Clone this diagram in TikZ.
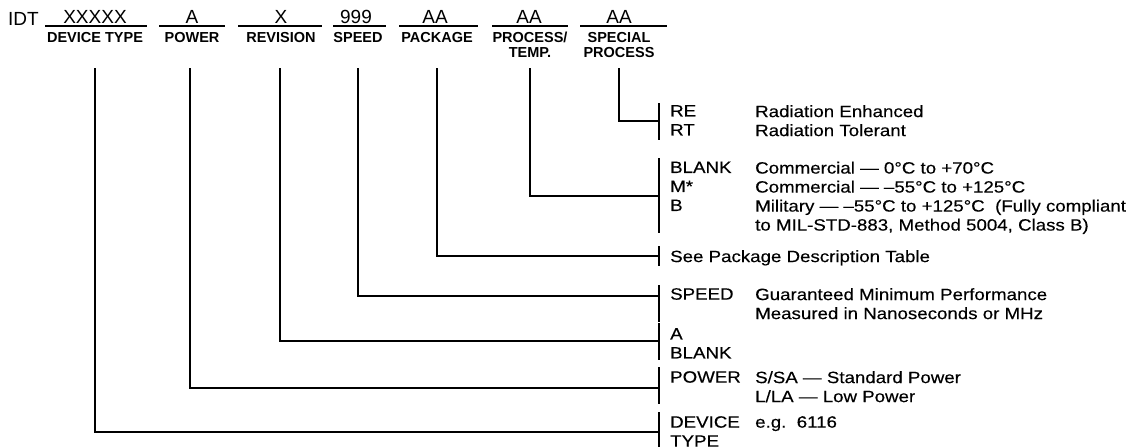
\documentclass[tikz,border=0pt]{standalone}
\usepackage{fontspec}
\setmainfont{Liberation Sans}
\setsansfont{Liberation Sans}
\newfontfamily\optfont{Liberation Sans}[FakeStretch=1.14,FakeBold=0.3]
\tikzset{every node/.style={font=\sffamily\fontsize{18.8}{19}\selectfont,inner sep=0pt},line cap=butt,line join=miter}
\tikzset{
  val/.style={font=\sffamily\fontsize{19}{19}\selectfont},
  fld/.style={anchor=north,align=center,font=\sffamily\bfseries\fontsize{14.5}{15}\selectfont},
  uline/.style={line width=1.3pt},
  conn/.style={line width=2pt},
  opt/.style={anchor=north west,align=left,font=\optfont\fontsize{16.4}{19}\selectfont}
}

\begin{document}
\begin{tikzpicture}[x=1pt,y=-1pt]
  \path[use as bounding box] (0,0) rectangle (1137,447);
  \node[val,anchor=west] (idt) at (8,19) {IDT};
  % part number fields
  \node[val] (vdev) at (95,17) {XXXXX};
  \node[val] (vpow) at (192,17) {A};
  \node[val] (vrev) at (281,17) {X};
  \node[val] (vspd) at (356,17) {999};
  \node[val] (vpkg) at (435,17) {AA};
  \node[val] (vtmp) at (529,17) {AA};
  \node[val] (vspc) at (619,17) {AA};
  \draw[uline] (45,26) -- (147,26);
  \draw[uline] (159,26) -- (225,26);
  \draw[uline] (238,26) -- (322,26);
  \draw[uline] (333,26) -- (386,26);
  \draw[uline] (399,26) -- (478,26);
  \draw[uline] (492,26) -- (568,26);
  \draw[uline] (580,26) -- (667,26);
  \node[fld] (fdev) at (95,32) {DEVICE TYPE};
  \node[fld] (fpow) at (192,32) {POWER};
  \node[fld] (frev) at (281,32) {REVISION};
  \node[fld] (fspd) at (358,32) {SPEED};
  \node[fld] (fpkg) at (437,32) {PACKAGE};
  \node[fld] (ftmp) at (530,32) {PROCESS/\\TEMP.};
  \node[fld] (fspc) at (619,32) {SPECIAL\\PROCESS};

  % options, right column
  \node[opt] (ospc) at (670,105) {RE\\RT};
  \node[opt] (dspc) at (755,105) {Radiation Enhanced\\Radiation Tolerant};
  \node[opt] (otmp) at (670,161.5) {BLANK\\M*\\B};
  \node[opt] (dtmp) at (755,161.5) {Commercial — 0°C to +70°C\\Commercial — –55°C to +125°C\\Military — –55°C to +125°C\ \ (Fully compliant\\to MIL-STD-883, Method 5004, Class B)};
  \node[opt] (dpkg) at (670,250) {See Package Description Table};
  \node[opt] (ospd) at (670,288) {SPEED};
  \node[opt] (dspd) at (755,288) {Guaranteed Minimum Performance\\Measured in Nanoseconds or MHz};
  \node[opt] (orev) at (670,328) {A\\BLANK};
  \node[opt] (opow) at (670,371) {POWER};
  \node[opt] (dpow) at (755,371) {S/SA — Standard Power\\L/LA — Low Power};
  \node[opt] (odev) at (670,416) {DEVICE\\TYPE};
  \node[opt] (ddev) at (755,416) {e.g.\ \ 6116};

  % bars
  \draw[conn] (659,103) -- (659,140);
  \draw[conn] (659,158) -- (659,233);
  \draw[conn] (659,246) -- (659,266);
  \draw[conn] (659,285) -- (659,322);
  \draw[conn] (659,323) -- (659,360);
  \draw[conn] (659,367) -- (659,404);
  \draw[conn] (659,412) -- (659,447);

  % connectors
  \coordinate (sdev) at (95,68);
  \coordinate (spow) at (190,68);
  \coordinate (srev) at (280,68);
  \coordinate (sspd) at (358,68);
  \coordinate (spkg) at (437,68);
  \coordinate (stmp) at (530,68);
  \coordinate (sspc) at (619,68);
  \coordinate (bspc) at (659,121);
  \coordinate (btmp) at (659,196);
  \coordinate (bpkg) at (659,256);
  \coordinate (bspd) at (659,296);
  \coordinate (brev) at (659,341);
  \coordinate (bpow) at (659,388);
  \coordinate (bdev) at (659,432);
  \draw[conn] (sspc) |- (bspc);
  \draw[conn] (stmp) |- (btmp);
  \draw[conn] (spkg) |- (bpkg);
  \draw[conn] (sspd) |- (bspd);
  \draw[conn] (srev) |- (brev);
  \draw[conn] (spow) |- (bpow);
  \draw[conn] (sdev) |- (bdev);
\end{tikzpicture}
\end{document}
